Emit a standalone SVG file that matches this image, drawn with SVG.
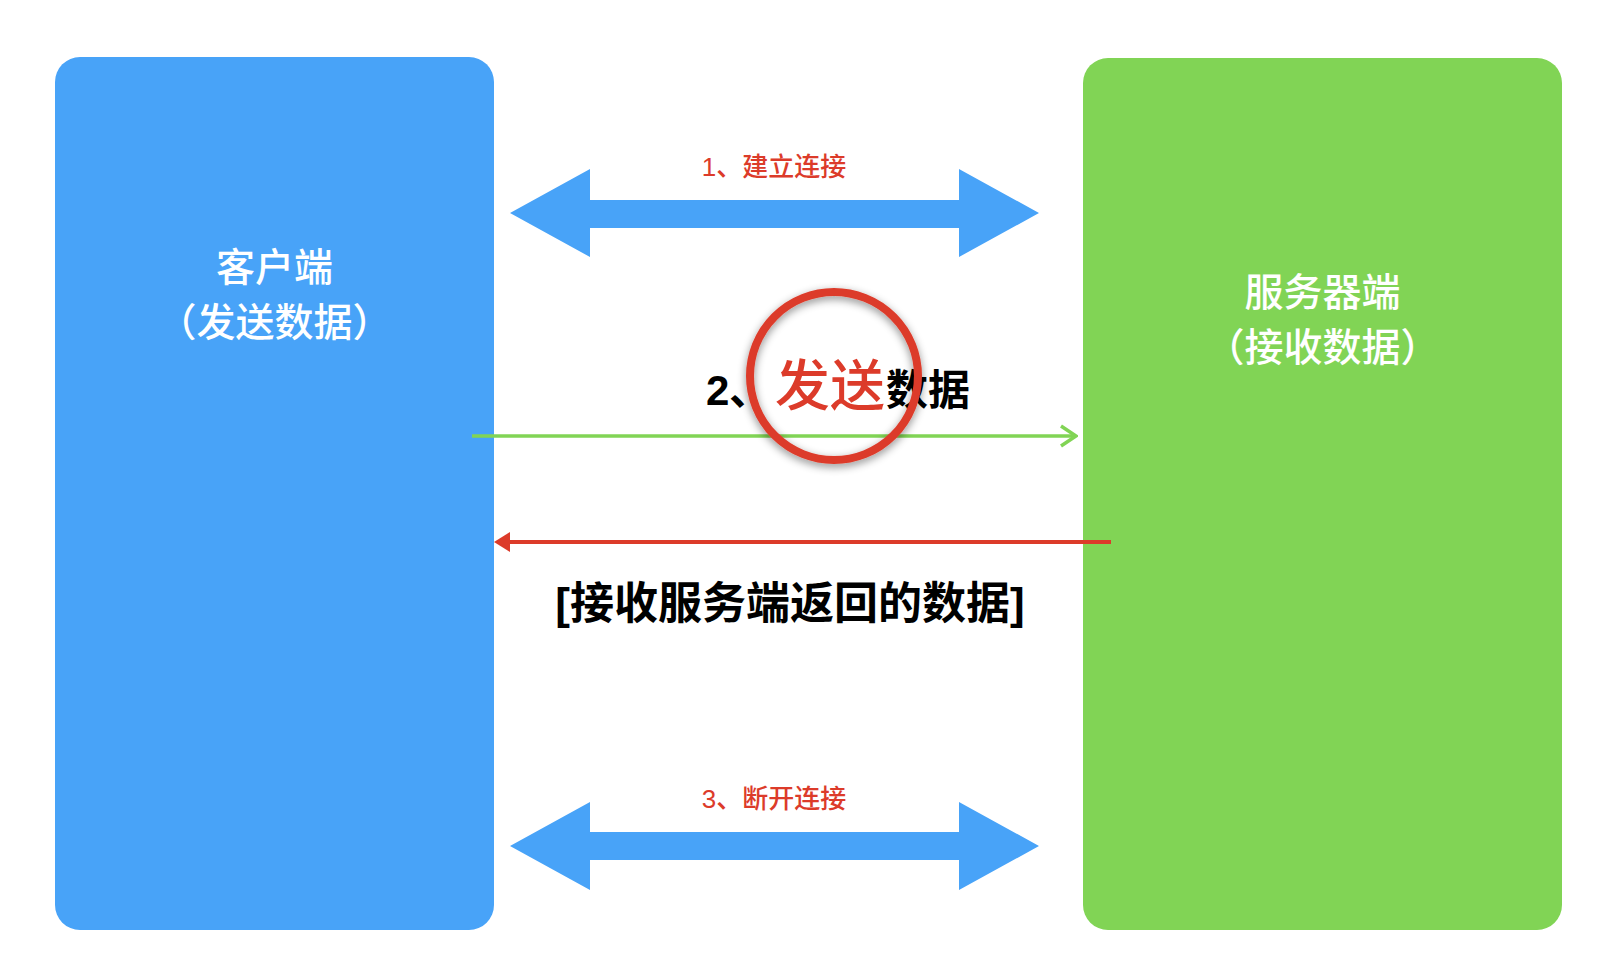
<svg xmlns="http://www.w3.org/2000/svg" width="1624" height="964" viewBox="0 0 1624 964">
<defs>
<style>
.lbl{font-family:"Liberation Sans","Noto Sans CJK SC",sans-serif;}
.white{fill:#ffffff;font-size:39px;font-weight:500;text-anchor:middle;}
.small{fill:#dc3b2a;font-size:26px;font-weight:500;text-anchor:middle;}
.big{fill:#000000;font-weight:bold;}
.dbl{fill:#48a3f8;}
</style>
<marker id="greenHead" viewBox="0 0 20 24" refX="18" refY="12" markerWidth="20" markerHeight="24" markerUnits="userSpaceOnUse" orient="auto">
<path d="M3,2 L18,12 L3,22" fill="none" stroke="#81d455" stroke-width="3.5"/>
</marker>
<filter id="shadow" x="-30%" y="-30%" width="160%" height="160%">
<feDropShadow dx="0" dy="3" stdDeviation="4" flood-color="#000000" flood-opacity="0.45"/>
</filter>
</defs>
<rect width="1624" height="964" fill="#ffffff"/>
<g id="client">
<rect x="55" y="57" width="439" height="873" rx="25" fill="#48a3f8"/>
<text class="lbl white" x="274.5" y="281">客户端</text>
<text class="lbl white" x="274.5" y="336">（发送数据）</text>
</g>
<g id="server">
<rect x="1083" y="58" width="479" height="872" rx="25" fill="#81d455"/>
<text class="lbl white" x="1322.5" y="306">服务器端</text>
<text class="lbl white" x="1322.5" y="361">（接收数据）</text>
</g>
<g id="connectors">
<polygon class="dbl" points="510,213 590,169 590,200 959,200 959,169 1039,213 959,257 959,228 590,228 590,257"/>
<polygon class="dbl" points="510,846 590,802 590,832 959,832 959,802 1039,846 959,890 959,860 590,860 590,890"/>
<line x1="472" y1="436" x2="1076" y2="436" stroke="#81d455" stroke-width="3.5" marker-end="url(#greenHead)"/>
<line x1="1111" y1="542" x2="510" y2="542" stroke="#dc3b2a" stroke-width="4"/>
<path d="M494,542 L510,532 L510,552 Z" fill="#dc3b2a"/>
</g>
<g id="labels">
<text class="lbl small" x="774" y="176">1、建立连接</text>
<text class="lbl small" x="774" y="808">3、断开连接</text>
<text class="lbl big" y="405" font-size="42"><tspan x="706">2</tspan><tspan x="729">、</tspan><tspan x="775" fill="#dc3b2a" font-weight="500" font-size="55">发送</tspan><tspan x="886">数据</tspan></text>
<text class="lbl big" x="790" y="619" font-size="44" text-anchor="middle">[接收服务端返回的数据]</text>
</g>
<g id="highlight">
<circle cx="834" cy="376" r="84" fill="none" stroke="#dc3b2a" stroke-width="8" filter="url(#shadow)"/>
</g>
</svg>
